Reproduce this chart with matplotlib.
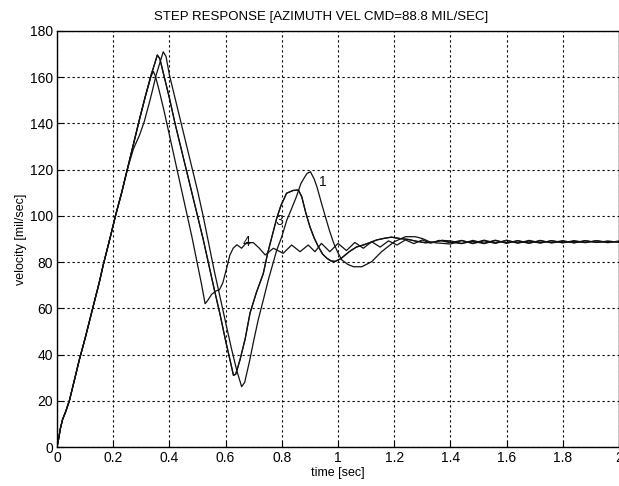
#! /usr/bin/env python
"""Step response of the azimuth velocity loop, four cases."""

import matplotlib
matplotlib.use("Agg")
import matplotlib.pyplot as plt

plt.rcParams["font.family"] = ["Liberation Sans", "DejaVu Sans"]

TITLE = "STEP RESPONSE [AZIMUTH VEL CMD=88.8 MIL/SEC]"
X_LABEL = "time [sec]"
Y_LABEL = "velocity [mil/sec]"

x_ticks = [0, 0.2, 0.4, 0.6, 0.8, 1.0, 1.2, 1.4, 1.6, 1.8, 2.0]
x_tick_labels = ["0", "0.2", "0.4", "0.6", "0.8", "1", "1.2", "1.4", "1.6", "1.8", "2"]
y_ticks = [0, 20, 40, 60, 80, 100, 120, 140, 160, 180]

# common start of all four responses
rise_t = [0, 0.005, 0.012, 0.02, 0.03, 0.044, 0.06, 0.08, 0.1, 0.127,
          0.15, 0.165, 0.19, 0.208, 0.23, 0.25]
rise_v = [0, 3, 8, 12, 15, 20, 28, 38, 47, 60,
          71, 79, 91, 100, 110, 120]

tail_t = [1.40, 1.44, 1.48, 1.52, 1.56, 1.60, 1.64, 1.68, 1.72, 1.76,
          1.80, 1.84, 1.88, 1.92, 1.96, 2.00]

# curve 1
t1 = rise_t + [0.272, 0.294, 0.311, 0.333, 0.353, 0.368, 0.378, 0.388,
               0.40, 0.42, 0.44, 0.46, 0.48, 0.50, 0.52, 0.54,
               0.56, 0.58, 0.60, 0.62, 0.64, 0.657, 0.668, 0.686,
               0.70, 0.716, 0.735, 0.752, 0.782, 0.80, 0.818, 0.833,
               0.852, 0.868, 0.88, 0.89, 0.902, 0.915, 0.925, 0.94,
               0.955, 0.97, 0.985, 1.0, 1.014, 1.035, 1.055, 1.085,
               1.12, 1.155, 1.2, 1.24, 1.275, 1.3, 1.326, 1.35,
               1.374] + tail_t
v1 = rise_v + [129, 135, 141, 151, 161, 167, 171, 169,
               161, 151, 141, 131, 121, 111, 100, 88,
               76, 65, 54, 43, 33, 26.1, 28, 37.6,
               46, 55, 64, 72.3, 85.2, 91, 98.2, 102.6,
               108.3, 114, 116.5, 118.4, 119.1, 116, 112.6, 106,
               99.7, 93.5, 88.1, 84, 80.9, 79, 78, 78,
               80.2, 84.5, 88.8, 91, 91, 90.2, 88.8, 88.3,
               88.1] + [87.8, 89.3, 88.2, 89.5, 88.3, 89.3, 88.2, 89.4,
                        88.4, 89.2, 88.3, 89.3, 88.5, 89.2, 88.4, 89.1]

# curve 3
t3 = rise_t + [0.272, 0.294, 0.315, 0.335, 0.348, 0.357, 0.366, 0.38,
               0.40, 0.42, 0.44, 0.46, 0.48, 0.50, 0.52, 0.54,
               0.56, 0.58, 0.60, 0.615, 0.628, 0.636, 0.651, 0.67,
               0.687, 0.71, 0.734, 0.75, 0.767, 0.782, 0.797, 0.817,
               0.84, 0.859, 0.871, 0.885, 0.9, 0.915, 0.93, 0.945,
               0.96, 0.975, 0.99, 1.01, 1.04, 1.065, 1.09, 1.115,
               1.138, 1.165, 1.19, 1.22, 1.25, 1.28, 1.31, 1.34,
               1.37] + tail_t
v3 = rise_v + [131, 142, 152, 161, 166, 169.6, 168, 161,
               151, 140, 130, 120, 110, 100, 90, 79,
               68, 57.5, 46, 38, 31, 31.5, 37.6, 47,
               58, 67, 75, 84, 92, 99, 104.5, 109.8,
               111, 111.2, 108.3, 101.5, 95.3, 90.5, 86.7, 83.5,
               81.7, 80.5, 80.3, 81.5, 84.5, 86.5, 87.4, 88.5,
               89.6, 90.3, 90.8, 90.2, 89.8, 89.0, 88.4, 88.6,
               89.4] + [89.2, 88.1, 89.0, 88.0, 89.3, 88.4, 89.2, 88.1,
                        89.4, 88.3, 89.0, 88.4, 89.3, 88.5, 89.0, 88.7]

# curve 2 runs on top of curve 3 (its label is hidden in the original)
t2 = t3
v2 = v3[:-len(tail_t)] + [88.6, 88.0, 89.4, 88.2, 89.5, 88.1, 89.3, 88.3,
                          89.2, 88.4, 89.3, 88.3, 89.2, 88.5, 89.1, 88.6]

# curve 4
t4 = rise_t + [0.272, 0.294, 0.315, 0.335, 0.343, 0.35, 0.36, 0.38,
               0.40, 0.42, 0.44, 0.46, 0.48, 0.50, 0.515, 0.527,
               0.537, 0.55, 0.565, 0.578, 0.59, 0.603, 0.615, 0.627,
               0.64, 0.657, 0.675, 0.699, 0.72, 0.741, 0.77, 0.805,
               0.835, 0.865, 0.894, 0.918, 0.941, 0.971, 1.0, 1.03,
               1.06, 1.09, 1.12, 1.15, 1.18, 1.21, 1.24, 1.27,
               1.3, 1.33, 1.36] + tail_t
v4 = rise_v + [131, 142, 152, 160.5, 162.5, 160.5, 156, 146,
               135, 124, 113, 102, 91, 79, 70, 62,
               63.5, 66, 67.5, 68, 71, 77, 83, 86,
               87.5, 86, 88.5, 88.4, 86, 83.1, 86, 83.8,
               87.4, 84.5, 87.4, 84.5, 88.1, 84.5, 88.1, 85,
               88.5, 86, 88.8, 86.5, 89.2, 87.4, 89.6, 88,
               89.6, 88.2, 89.4] + [88.4, 89.4, 88.0, 89.2, 88.1, 89.5, 88.3, 89.1,
                                    88.2, 89.3, 88.5, 89.0, 88.4, 89.3, 88.6, 89.0]

curves = [(t1, v1), (t2, v2), (t3, v3), (t4, v4)]

# curve labels as placed on the chart
label_text = ["1", "3", "4"]
label_t = [0.947, 0.79, 0.676]
label_v = [114.7, 97.8, 88.7]


def main():
    fig = plt.figure(figsize=(6.19, 4.86), dpi=100)
    ax = fig.add_axes([57 / 619, 39 / 486, 562 / 619, 416 / 486])

    for t, v in curves:
        ax.plot(t, v, color="#111111", linewidth=0.9)

    for txt, x, y in zip(label_text, label_t, label_v):
        ax.text(x, y, txt, fontsize=10, ha="center", va="center", color="#111111")

    ax.set_xlim(0, 2)
    ax.set_ylim(0, 180)
    ax.set_xticks(x_ticks)
    ax.set_xticklabels(x_tick_labels)
    ax.set_yticks(y_ticks)
    ax.tick_params(direction="in", length=4, labelsize=10, pad=3, color="black")
    ax.grid(True, color="black", linestyle=(0, (2, 2.5)), linewidth=0.8)
    for s in ax.spines.values():
        s.set_linewidth(1.0)
        s.set_color("black")

    # the original plot is cropped on the right, so the title sits left of the axes centre
    fig.text(321 / 619, 1 - 17 / 486, TITLE, fontsize=9.5, ha="center", va="center")
    ax.set_xlabel(X_LABEL, fontsize=9, labelpad=1)
    ax.set_ylabel(Y_LABEL, fontsize=9, labelpad=2)

    fig.savefig("out.png", dpi=100)


if __name__ == "__main__":
    main()
